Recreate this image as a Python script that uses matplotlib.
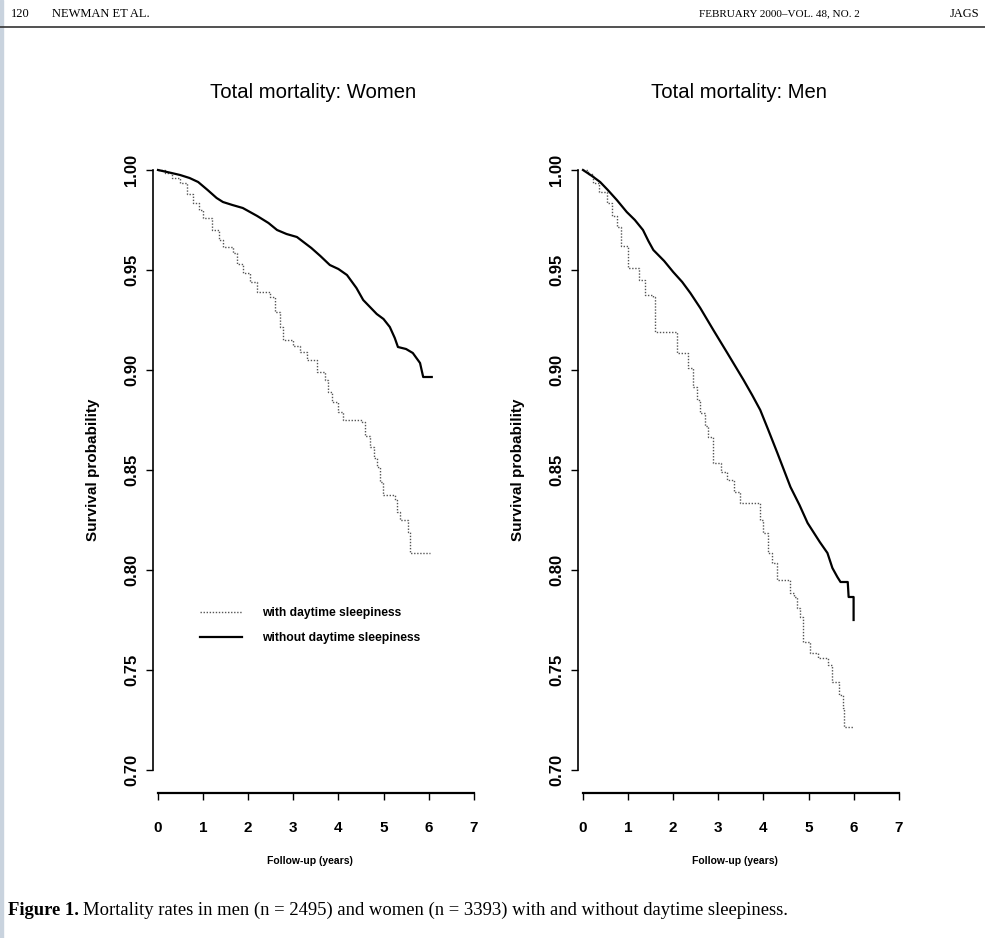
import numpy as np
import matplotlib
matplotlib.use("Agg")
import matplotlib.pyplot as plt
from matplotlib.lines import Line2D
from matplotlib.patches import Rectangle

# Survival data (time in years, survival probability)
women_with_t = [0, 0.15, 0.3, 0.49, 0.65, 0.78, 0.9, 1.0, 1.2, 1.35, 1.44, 1.66, 1.75, 1.88, 2.05,
                2.2, 2.48, 2.6, 2.71, 2.77, 3.0, 3.15, 3.3, 3.52, 3.7, 3.78, 3.86, 4.0, 4.1, 4.52,
                4.6, 4.7, 4.8, 4.86, 4.93, 4.99, 5.25, 5.3, 5.37, 5.54, 5.59, 6.03]
women_with_s = [1.0, 0.9985, 0.996, 0.9935, 0.988, 0.9835, 0.980, 0.976, 0.970, 0.965, 0.9615,
                0.9585, 0.953, 0.9485, 0.944, 0.939, 0.9365, 0.929, 0.9215, 0.915, 0.912, 0.909,
                0.905, 0.899, 0.895, 0.889, 0.884, 0.879, 0.875, 0.874, 0.867, 0.8615, 0.856,
                0.8515, 0.844, 0.8375, 0.835, 0.829, 0.825, 0.819, 0.8085, 0.8085]

women_without_t = [0, 0.3, 0.49, 0.7, 0.89, 1.1, 1.3, 1.44, 1.65, 1.88, 2.2, 2.45, 2.64, 2.85,
                   3.08, 3.4, 3.6, 3.81, 4.0, 4.19, 4.4, 4.55, 4.85, 5.0, 5.14, 5.25, 5.32, 5.5,
                   5.65, 5.81, 5.88, 6.07]
women_without_s = [1.0, 0.9985, 0.9975, 0.996, 0.994, 0.990, 0.986, 0.984, 0.9825, 0.981, 0.977,
                   0.9735, 0.970, 0.968, 0.9665, 0.961, 0.957, 0.9525, 0.9505, 0.9475, 0.941,
                   0.935, 0.928, 0.9255, 0.9215, 0.916, 0.9115, 0.9105, 0.9085, 0.9035, 0.8965,
                   0.8965]

men_with_t = [0, 0.1, 0.22, 0.35, 0.53, 0.65, 0.75, 0.85, 1.0, 1.25, 1.38, 1.56, 1.6, 2.09, 2.33,
              2.44, 2.52, 2.6, 2.7, 2.78, 2.89, 3.05, 3.2, 3.35, 3.49, 3.93, 4.0, 4.11, 4.2, 4.31,
              4.6, 4.67, 4.75, 4.82, 4.87, 5.04, 5.2, 5.44, 5.53, 5.67, 5.76, 5.78, 6.0]
men_with_s = [1.0, 0.998, 0.9935, 0.989, 0.9835, 0.977, 0.9715, 0.962, 0.951, 0.945, 0.9375,
              0.9365, 0.919, 0.9085, 0.901, 0.8915, 0.885, 0.8785, 0.872, 0.8665, 0.8535, 0.849,
              0.845, 0.839, 0.8335, 0.825, 0.8185, 0.8085, 0.8035, 0.795, 0.7885, 0.7865, 0.781,
              0.7765, 0.764, 0.7585, 0.756, 0.7525, 0.744, 0.7375, 0.731, 0.7215, 0.7215]

men_without_t = [0, 0.2, 0.38, 0.55, 0.75, 0.97, 1.15, 1.33, 1.45, 1.56, 1.8, 2.0, 2.2, 2.38,
                 2.6, 2.89, 3.2, 3.56, 3.75, 3.93, 4.1, 4.31, 4.6, 4.8, 4.98, 5.25, 5.42, 5.53,
                 5.64, 5.71, 5.87, 5.89, 6.0, 6.0]
men_without_s = [1.0, 0.997, 0.994, 0.990, 0.985, 0.979, 0.975, 0.970, 0.9645, 0.960, 0.9545,
                 0.949, 0.944, 0.9385, 0.931, 0.92, 0.9085, 0.895, 0.8875, 0.88, 0.8705, 0.8585,
                 0.8415, 0.8325, 0.8235, 0.814, 0.8085, 0.801, 0.7965, 0.794, 0.794, 0.7865,
                 0.7865, 0.775]

titles = ["Total mortality: Women", "Total mortality: Men"]
legend_labels = ["with daytime sleepiness", "without daytime sleepiness"]
y_ticks = [0.70, 0.75, 0.80, 0.85, 0.90, 0.95, 1.00]
x_ticks = [0, 1, 2, 3, 4, 5, 6, 7]

W, H = 985, 938
sans = ["Liberation Sans"]
serif = ["Liberation Serif"]


def fx(px):
    return px / W


def fy(py):
    return 1 - py / H


fig = plt.figure(figsize=(W / 100, H / 100), dpi=100)

# thin blue-grey scan border on the left
fig.patches.append(Rectangle((0, 0), fx(3), 1, transform=fig.transFigure,
                             color="#c9d3de", zorder=0))

# journal running header
fig.text(fx(11), fy(14), "120", family=serif, fontsize=9, va="center")
fig.text(fx(52), fy(14), "NEWMAN ET AL.", family=serif, fontsize=9, va="center")
fig.text(fx(860), fy(14), "FEBRUARY 2000\u2013VOL. 48, NO. 2", family=serif, fontsize=8,
         va="center", ha="right")
fig.text(fx(950), fy(14), "JAGS", family=serif, fontsize=9, va="center")
fig.lines.append(Line2D([0, 1], [fy(27), fy(27)], transform=fig.transFigure,
                        color="#333333", lw=1.2))

panels = [
    (158, women_with_t, women_with_s, women_without_t, women_without_s),
    (583, men_with_t, men_with_s, men_without_t, men_without_s),
]

xscale = 45.1
for i, (x0, t1, s1, t2, s2) in enumerate(panels):
    ax = fig.add_axes([fx(x0 - 0.3 * xscale), fy(810), 7.5 * xscale / W, 650 / H])
    ax.set_xlim(-0.3, 7.2)
    ax.set_ylim(0.68, 1.005)

    l1, = ax.step(t1, s1, where="post", color="#555555", lw=1.0, ls=(0, (1, 1.2)))
    l2, = ax.plot(t2, s2, color="black", lw=1.6)

    # detached R-style axes
    for side in ["top", "right"]:
        ax.spines[side].set_visible(False)
    ax.spines["left"].set_position(("data", -0.11))
    ax.spines["left"].set_bounds(0.70, 1.00)
    ax.spines["bottom"].set_position(("data", 0.6885))
    ax.spines["bottom"].set_bounds(0, 7)
    ax.spines["left"].set_linewidth(1.2)
    ax.spines["bottom"].set_linewidth(1.6)

    ax.set_yticks(y_ticks)
    ax.set_yticklabels(["%.2f" % v for v in y_ticks], rotation=90, va="center",
                       family=sans, fontsize=12, fontweight="bold")
    ax.set_xticks(x_ticks)
    ax.set_xticklabels([str(v) for v in x_ticks], family=sans, fontsize=11,
                       fontweight="bold")
    ax.tick_params(axis="y", length=5, width=1, pad=5)
    ax.tick_params(axis="x", length=5, width=1, pad=15)

    ax.set_ylabel("Survival probability", family=sans, fontsize=11, fontweight="bold")
    ax.yaxis.set_label_coords(-0.13, 0.523)
    ax.set_xlabel("Follow-up (years)", family=sans, fontsize=7.5, fontweight="bold")
    ax.xaxis.set_label_coords(0.489, -0.071)

    fig.text(fx(x0 + 3.45 * xscale), fy(92), titles[i], family=sans, fontsize=14.6,
             ha="center", va="center")

    if i == 0:
        ax.legend([l1, l2], legend_labels, loc="upper left", bbox_to_anchor=(0.93, 0.7815),
                  bbox_transform=ax.transData, frameon=False, borderpad=0, borderaxespad=0,
                  handlelength=3.47, handletextpad=1.65, labelspacing=1.07,
                  prop={"family": sans, "size": 8.7, "weight": "bold"})

# caption
renderer = fig.canvas.get_renderer()
cap1 = fig.text(fx(8), fy(910), "Figure 1.", family=serif, fontsize=13.4,
                fontweight="bold", va="center")
bb = cap1.get_window_extent(renderer)
fig.text(bb.x1 / W + fx(4), fy(910),
         "Mortality rates in men (n = 2495) and women (n = 3393) with and without daytime sleepiness.",
         family=serif, fontsize=13.4, va="center")

fig.savefig("out.png", dpi=100)
